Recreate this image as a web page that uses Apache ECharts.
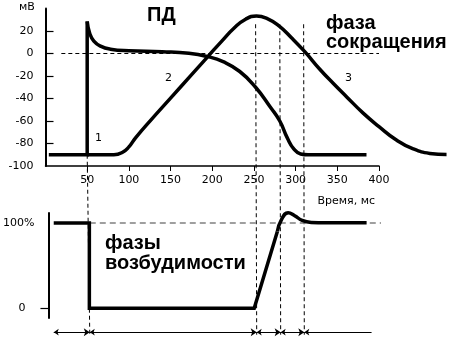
<!DOCTYPE html>
<html><head><meta charset="utf-8">
<script src="https://cdn.jsdelivr.net/npm/echarts@6/dist/echarts.min.js"></script>
<style>html,body{margin:0;padding:0;background:#fff}#c{width:455px;height:352px}</style>
</head><body><div id="c"></div>
<script>
// ---- data ----
const xTicks = [50, 100, 150, 200, 250, 300, 350, 400];
const yLabels = [-100, -80, -60, -40, -20, 0, 20];
const yTickMarks = [-80, -60, -40, -20, 0, 20];
const excitLabels = [0, 100];
const zeroLine = [[19, 0], [400, 0]];
const apUpstroke = [[4, -90], [50, -90], [50, 28.5]];
const apDecay = [[50, 28.5], [53, 18], [58, 11], [66, 6.5], [78, 3.8], [100, 2.4], [140, 1.6], [172, 0.2], [194.6, -2.8], [213, -7.3], [233, -16], [252, -30], [270, -48], [281, -60], [290, -75], [298, -85], [306, -89.3], [315, -90], [385, -90]];
const contraction = [[50, -90], [82, -90], [92, -88], [100, -83], [108, -75], [126.6, -59], [150, -39.7], [175, -19], [195, -2.5], [212, 11.5], [226, 22.5], [240, 30.5], [253, 33.3], [266, 31], [280, 24.5], [295, 14], [311, 1.6], [329, -14], [345, -26.5], [361, -38.4], [381, -53], [400, -65], [420, -76.5], [441, -84.8], [461, -88.8], [481, -89.8]];
const excitStep = [[6.4, 100], [49.5, 100], [49.5, 0], [249, 0], [277, 90]];
const excitBump = [[277, 90], [282, 104], [290, 112], [298, 108.5], [307, 103], [318, 100.6], [335, 100.2], [385, 100.2]];
const fullLine = [[50, 100], [417, 100]];
const dashTimes = [50, 252, 281, 309.6];
const phaseBounds = [6.4, 50, 252, 281, 309.6, 391];
const arrowLevel = -28;

const chart = echarts.init(document.getElementById('c'), null, {renderer: 'canvas'});
const lab = {color: '#000', fontSize: 11, fontFamily: 'DejaVu Sans'};
const black = '#000';

// layout: same time scale for all grids
const gLeft = 45.5, gRight = 76, W = 455;
const pxPerMs = (W - gLeft - gRight) / 400;
const wideMax = 490;
const wideRight = W - gLeft - wideMax * pxPerMs;

const bothArrows = [];
for (let i = 0; i < phaseBounds.length - 2; i++) {
  bothArrows.push({coords: [[phaseBounds[i], arrowLevel], [phaseBounds[i + 1], arrowLevel]]});
}
const lastN = phaseBounds.length;
const leftArrow = [{coords: [[phaseBounds[lastN - 2], arrowLevel], [phaseBounds[lastN - 1], arrowLevel]]}];

const option = {
  animation: false,
  grid: [
    {left: gLeft, right: gRight, top: 8.5, bottom: 186},
    {left: gLeft, right: gRight, top: 213, bottom: 34},
    {left: gLeft, right: wideRight, top: 8.5, bottom: 186}
  ],
  xAxis: [
    {type: 'value', gridIndex: 0, min: 0, max: 400, interval: 50,
     axisLine: {onZero: false, lineStyle: {color: black, width: 1.5}},
     axisTick: {show: true, inside: false, length: 5, customValues: xTicks, lineStyle: {color: black, width: 1}},
     axisLabel: Object.assign({customValues: xTicks, margin: 9}, lab),
     splitLine: {show: false}},
    {type: 'value', gridIndex: 1, min: 0, max: 400, show: false, splitLine: {show: false}},
    {type: 'value', gridIndex: 2, min: 0, max: wideMax, show: false, splitLine: {show: false}}
  ],
  yAxis: [
    {type: 'value', gridIndex: 0, min: -100, max: 40, interval: 20,
     axisLine: {show: true, onZero: false, lineStyle: {color: black, width: 2}},
     axisTick: {show: true, inside: true, length: 8, customValues: yTickMarks, lineStyle: {color: black, width: 1.2}},
     axisLabel: Object.assign({customValues: yLabels, margin: 12}, lab),
     splitLine: {show: false}},
    {type: 'value', gridIndex: 1, min: -11.4, max: 111.7,
     axisLine: {show: true, onZero: false, lineStyle: {color: black, width: 2}},
     axisTick: {show: true, inside: false, length: 8, customValues: [0], lineStyle: {color: black, width: 1.2}},
     axisLabel: Object.assign({customValues: excitLabels, margin: 14,
       formatter: v => v === 100 ? '100%' : '{z|0}',
       rich: {z: {padding: [0, 9, 0, 0], color: '#000', fontSize: 11, fontFamily: 'DejaVu Sans'}}}, lab),
     splitLine: {show: false}},
    {type: 'value', gridIndex: 2, min: -100, max: 40, show: false, splitLine: {show: false}}
  ],
  series: [
    {type: 'line', xAxisIndex: 0, yAxisIndex: 0, data: zeroLine, symbol: 'none', clip: false, z: 1,
     lineStyle: {color: black, width: 1, type: [4, 3]}},
    {type: 'line', xAxisIndex: 0, yAxisIndex: 0, data: apUpstroke, symbol: 'none', clip: false, z: 3,
     lineStyle: {color: black, width: 3.5, join: 'miter', cap: 'butt'}},
    {type: 'line', xAxisIndex: 0, yAxisIndex: 0, data: apDecay, symbol: 'none', clip: false, z: 3,
     smooth: 0.5, lineStyle: {color: black, width: 3.5}},
    {type: 'line', xAxisIndex: 2, yAxisIndex: 2, data: contraction, symbol: 'none', clip: false, z: 3,
     smooth: 0.5, lineStyle: {color: black, width: 3.5}},
    {type: 'line', xAxisIndex: 1, yAxisIndex: 1, data: fullLine, symbol: 'none', clip: false, z: 1,
     lineStyle: {color: '#808080', width: 1.5, type: [6, 4]}},
    {type: 'line', xAxisIndex: 1, yAxisIndex: 1, data: excitStep, symbol: 'none', clip: false, z: 3,
     lineStyle: {color: black, width: 3.5, join: 'miter'}},
    {type: 'line', xAxisIndex: 1, yAxisIndex: 1, data: excitBump, symbol: 'none', clip: false, z: 3,
     smooth: 0.5, lineStyle: {color: black, width: 3.5}},
    {type: 'lines', coordinateSystem: 'cartesian2d', xAxisIndex: 1, yAxisIndex: 1, clip: false,
     data: bothArrows, symbol: ['arrow', 'arrow'], symbolSize: [5, 6],
     lineStyle: {color: black, width: 1, opacity: 1}, z: 2},
    {type: 'lines', coordinateSystem: 'cartesian2d', xAxisIndex: 1, yAxisIndex: 1, clip: false,
     data: leftArrow, symbol: ['arrow', 'none'], symbolSize: [5, 6],
     lineStyle: {color: black, width: 1, opacity: 1}, z: 2}
  ]
};
chart.setOption(option);

const g = [];
dashTimes.forEach(t => {
  const top = chart.convertToPixel({gridIndex: 0}, [t, t === 50 ? -90 : 26]);
  const bot = chart.convertToPixel({gridIndex: 1}, [t, -31]);
  g.push({type: 'line', z: 1, shape: {x1: top[0], y1: top[1], x2: bot[0], y2: bot[1]},
    style: {stroke: black, lineWidth: 1, lineDash: [4, 3]}});
});
const bold = 'bold 20px "Liberation Sans", Arial, sans-serif';
const texts = [
  {t: 'ПД', x: 147, y: 15.6, font: bold},
  {t: 'фаза', x: 326, y: 23.1, font: bold},
  {t: 'сокращения', x: 326, y: 42.1, font: bold},
  {t: 'фазы', x: 105, y: 243.1, font: bold},
  {t: 'возбудимости', x: 105, y: 263.6, font: bold},
  {t: '1', x: 95, y: 138.5, font: '11px "DejaVu Sans"'},
  {t: '2', x: 165, y: 78, font: '11px "DejaVu Sans"'},
  {t: '3', x: 345, y: 78, font: '11px "DejaVu Sans"'},
  {t: 'мВ', x: 19, y: 7, font: '11px "DejaVu Sans"'}
];
texts.forEach(o => g.push({type: 'text', z: 5, x: o.x, y: o.y,
  style: {text: o.t, font: o.font, fill: black, align: 'left', verticalAlign: 'middle'}}));
g.push({type: 'text', z: 5, x: 375, y: 201,
  style: {text: 'Время, мс', font: '11px "DejaVu Sans"', fill: black, align: 'right', verticalAlign: 'middle'}});
chart.setOption({graphic: g});
</script></body></html>
